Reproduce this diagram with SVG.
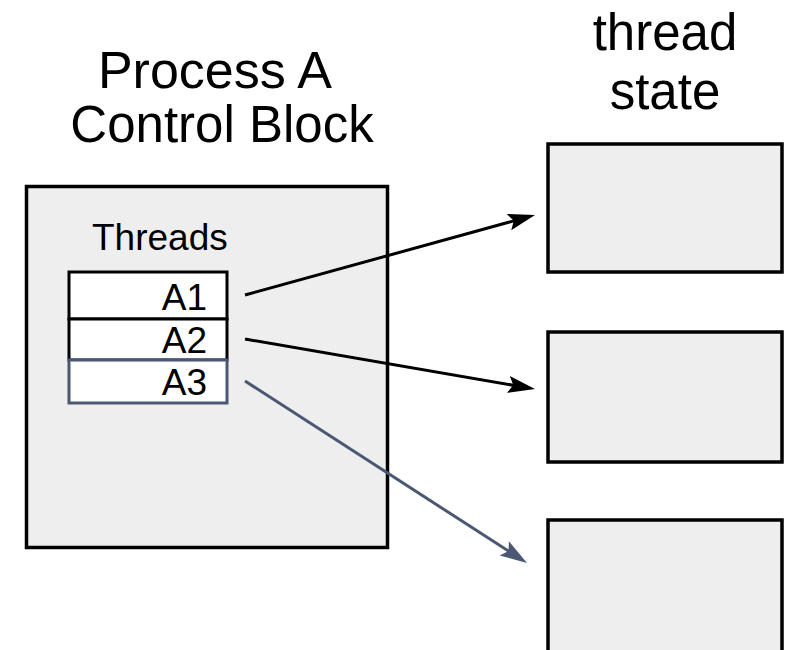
<svg xmlns="http://www.w3.org/2000/svg" width="795" height="650" viewBox="0 0 795 650">
<style>
.t{font-family:"Liberation Sans",Arial,sans-serif;fill:#000}
.box{fill:#eeeeee;stroke:#000;stroke-width:3.5}
.row{fill:#fff;stroke:#000;stroke-width:3}
</style>
<defs>
<path id="head" d="M0,0 L-27,-8.5 L-22,0 L-27,8.5 Z"/>
</defs>
<rect width="795" height="650" fill="#fff"/>
<g id="title-pcb">
<text class="t" x="215" y="88" font-size="52" text-anchor="middle">Process A</text>
<text class="t" x="222" y="142" font-size="51" text-anchor="middle">Control Block</text>
</g>
<g id="title-state">
<text class="t" x="665" y="50" font-size="51" text-anchor="middle">thread</text>
<text class="t" x="665" y="109" font-size="51" text-anchor="middle">state</text>
</g>
<g id="pcb">
<rect class="box" x="26.5" y="186.5" width="361" height="361"/>
<text class="t" x="92" y="250" font-size="37">Threads</text>
</g>
<g id="A1">
<rect class="row" x="69" y="272" width="158" height="47"/>
<text class="t" x="207" y="310" font-size="37" text-anchor="end">A1</text>
</g>
<g id="A2">
<rect class="row" x="69" y="319" width="158" height="41"/>
<text class="t" x="207" y="353" font-size="37" text-anchor="end">A2</text>
</g>
<g id="A3">
<rect class="row" x="69" y="360" width="158" height="43" style="stroke:#4a5873"/>
<text class="t" x="207" y="395" font-size="37" text-anchor="end">A3</text>
</g>
<g id="state1"><rect class="box" x="548" y="144" width="234" height="128"/></g>
<g id="state2"><rect class="box" x="548" y="332" width="234" height="130"/></g>
<g id="state3"><rect class="box" x="548" y="520" width="234" height="135"/></g>
<g id="connectors" fill="none" stroke-width="3">
<line x1="245" y1="295" x2="523.4" y2="218.2" stroke="#000"/>
<use href="#head" transform="translate(535,215) rotate(-15.42)" fill="#000" stroke="none"/>
<line x1="245" y1="339" x2="523.2" y2="387" stroke="#000"/>
<use href="#head" transform="translate(535,389) rotate(9.78)" fill="#000" stroke="none"/>
<line x1="245" y1="381" x2="516.9" y2="556.5" stroke="#4a5873"/>
<use href="#head" transform="translate(527,563) rotate(32.84)" fill="#4a5873" stroke="none"/>
</g>
</svg>
